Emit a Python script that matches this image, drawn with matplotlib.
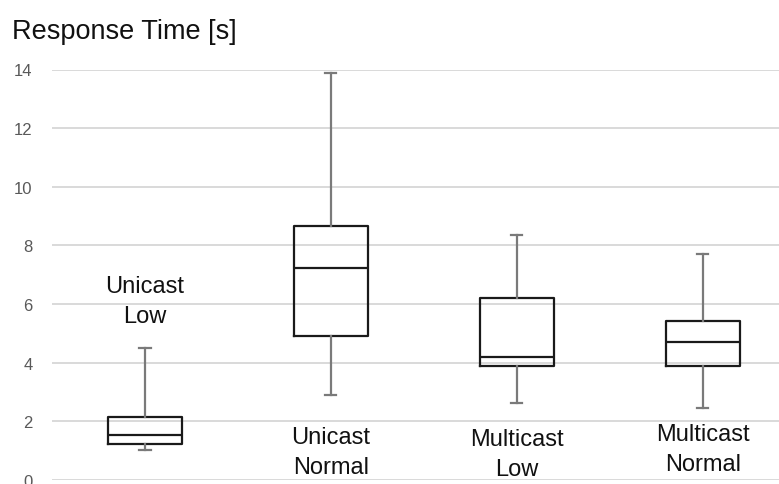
import matplotlib
matplotlib.use("Agg")
import matplotlib.pyplot as plt

# box statistics (seconds)
labels = ["Unicast\nLow", "Unicast\nNormal", "Multicast\nLow", "Multicast\nNormal"]
whislo = [1.02, 2.90, 2.62, 2.45]
q1 = [1.23, 4.90, 3.88, 3.88]
med = [1.53, 7.22, 4.19, 4.70]
q3 = [2.15, 8.65, 6.20, 5.42]
whishi = [4.50, 13.87, 8.35, 7.70]
yticks = [0, 2, 4, 6, 8, 10, 12, 14]

# label centre (y in data units) for each box label
label_y = [6.1, 0.95, 0.89, 1.05]

plt.rcParams['font.family'] = ['Liberation Sans', 'DejaVu Sans']

fig = plt.figure(figsize=(7.79, 4.85), dpi=100)
ax = fig.add_axes([52 / 779, 4 / 485, 1 - 52 / 779, (481 - 70.5) / 485])

stats = []
for i in range(len(labels)):
    stats.append({'whislo': whislo[i], 'q1': q1[i], 'med': med[i],
                  'q3': q3[i], 'whishi': whishi[i], 'fliers': []})

ax.bxp(stats, positions=range(len(labels)), widths=0.40, showfliers=False,
       boxprops=dict(color='#1a1a1a', linewidth=1.6),
       medianprops=dict(color='#1a1a1a', linewidth=1.6),
       whiskerprops=dict(color='#7a7a7a', linewidth=1.6),
       capprops=dict(color='#7a7a7a', linewidth=1.6),
       capwidths=0.06, zorder=3)

for i, lab in enumerate(labels):
    ax.text(i, label_y[i], lab, ha='center', va='center', fontsize=17,
            color='#111111', linespacing=1.5)

ax.set_ylim(0, 14)
ax.set_xlim(-0.5, 3.41)
ax.set_yticks(yticks)
ax.set_yticklabels([str(v) for v in yticks])
ax.set_xticks([])
ax.tick_params(axis='y', length=0, pad=14, labelsize=12, labelcolor='#595959')
ax.yaxis.grid(True, color='#d9d9d9', linewidth=1.4)
ax.set_axisbelow(True)
for s in ax.spines.values():
    s.set_visible(False)

fig.text(12 / 779, 1 - 39 / 485, "Response Time [s]", fontsize=19.5,
         color='#111111', ha='left', va='baseline')

fig.savefig('out.png', dpi=100, facecolor='white')
plt.close()
